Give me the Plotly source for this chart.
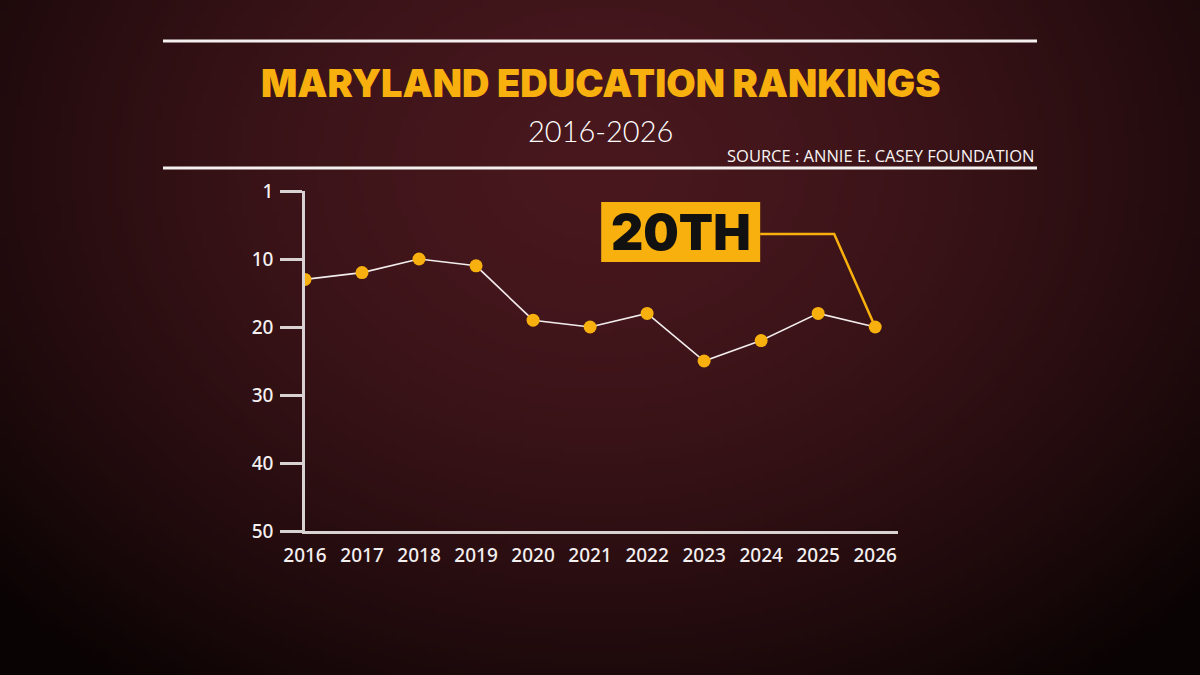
import base64, struct, zlib
import plotly.graph_objects as go

# ---- data ----
years = [2016, 2017, 2018, 2019, 2020, 2021, 2022, 2023, 2024, 2025, 2026]
ranks = [13, 12, 10, 11, 19, 20, 18, 25, 22, 18, 20]
ytick_vals = [0, 10, 20, 30, 40, 50]
ytick_text = ["1", "10", "20", "30", "40", "50"]
title_text = "MARYLAND EDUCATION RANKINGS"
subtitle_text = "2016-2026"
source_text = "SOURCE : ANNIE E. CASEY FOUNDATION"
callout_text = "20TH"

W, H = 1200, 675
L, R, T, B = 305, 302, 191, 144
PW, PH = W - L - R, H - T - B

GOLD = "#F8B00E"
LINE = "#D9D2D2"


# ---- radial gradient background as PNG data uri ----
def gradient_png(w, h):
    cx, cy = 0.5 * w, 0.25 * h
    rx, ry = 0.68 * w, 0.95 * h
    center = (72, 24, 30)
    edge = (10, 3, 3)
    rows = []
    for j in range(h):
        row = bytearray([0])
        for i in range(w):
            dx = (i + 0.5 - cx) / rx
            dy = (j + 0.5 - cy) / ry
            r = min(1.0, (dx * dx + dy * dy) ** 0.5)
            f = 1 - r ** 1.6
            row += bytes(int(edge[k] + (center[k] - edge[k]) * f) for k in range(3))
        rows.append(bytes(row))
    raw = b"".join(rows)

    def chunk(tag, data):
        c = struct.pack(">I", len(data)) + tag + data
        return c + struct.pack(">I", zlib.crc32(tag + data) & 0xFFFFFFFF)

    png = b"\x89PNG\r\n\x1a\n"
    png += chunk(b"IHDR", struct.pack(">IIBBBBB", w, h, 8, 2, 0, 0, 0))
    png += chunk(b"IDAT", zlib.compress(raw, 9))
    png += chunk(b"IEND", b"")
    return "data:image/png;base64," + base64.b64encode(png).decode()


bg = gradient_png(240, 135)

fig = go.Figure()
fig.add_trace(go.Scatter(
    x=years, y=ranks, mode="lines+markers",
    line=dict(color="#F2ECEC", width=1.6),
    marker=dict(color=GOLD, size=13, line=dict(width=0)),
    hoverinfo="skip", showlegend=False,
))

xmin, xmax = 2016, 2026.4
px_per_x = PW / (xmax - xmin)
px_per_y = PH / 50.0

# callout geometry derived from the last point
lx, ly = years[-1], ranks[-1]
elbow_x = lx - 41 / px_per_x
elbow_y = ly - 93 / px_per_y
box_x1 = elbow_x - 74 / px_per_x
box_x0 = box_x1 - 159 / px_per_x
box_y0 = elbow_y - 32 / px_per_y
box_y1 = elbow_y + 28 / px_per_y

shapes = [
    dict(type="path", xref="x", yref="y",
         path=f"M {box_x1},{elbow_y} L {elbow_x},{elbow_y} L {lx},{ly}",
         line=dict(color=GOLD, width=2.5), layer="below"),
    dict(type="rect", xref="x", yref="y", x0=box_x0, x1=box_x1, y0=box_y0, y1=box_y1,
         fillcolor=GOLD, line=dict(width=0), layer="above"),
    # header rules
    dict(type="line", xref="paper", yref="paper",
         x0=(163 - L) / PW, x1=(1037 - L) / PW,
         y0=1 + (T - 41) / PH, y1=1 + (T - 41) / PH,
         line=dict(color="#F4F0F0", width=3)),
    dict(type="line", xref="paper", yref="paper",
         x0=(163 - L) / PW, x1=(1037 - L) / PW,
         y0=1 + (T - 168) / PH, y1=1 + (T - 168) / PH,
         line=dict(color="#F4F0F0", width=3)),
]

annotations = [
    dict(text=callout_text, x=(box_x0 + box_x1) / 2, y=(box_y0 + box_y1) / 2,
         xref="x", yref="y", showarrow=False,
         font=dict(family="Inter", size=50, color="#111111", weight=900)),
    dict(text=title_text, x=(600 - L) / PW, y=1 + (T - 83) / PH, xref="paper", yref="paper",
         showarrow=False, xanchor="center", yanchor="middle",
         font=dict(family="Inter", size=38, color=GOLD, weight=900)),
    dict(text=subtitle_text, x=(600 - L) / PW, y=1 + (T - 130) / PH, xref="paper", yref="paper",
         showarrow=False, xanchor="center", yanchor="middle",
         font=dict(family="Lato", size=29, color="#FFFFFF", weight=300)),
    dict(text=source_text, x=(1036 - L) / PW, y=1 + (T - 156) / PH, xref="paper", yref="paper",
         showarrow=False, xanchor="right", yanchor="middle",
         font=dict(family="Open Sans", size=16.5, color="#F8F4F4", weight=500)),
]

fig.update_layout(
    width=W, height=H,
    margin=dict(l=L, r=R, t=T, b=B),
    paper_bgcolor="#1a0808",
    plot_bgcolor="rgba(0,0,0,0)",
    shapes=shapes,
    annotations=annotations,
    images=[dict(source=bg, xref="paper", yref="paper",
                 x=-L / PW, y=1 + T / PH, sizex=W / PW, sizey=H / PH,
                 xanchor="left", yanchor="top", sizing="stretch", layer="below")],
    xaxis=dict(range=[xmin, xmax], showgrid=False, zeroline=False,
               showline=True, linecolor=LINE, linewidth=2.5,
               tickvals=years, ticks="", ticklabelstandoff=5,
               tickfont=dict(family="Noto Sans", size=19, color="#F4F0F0", weight=500)),
    yaxis=dict(range=[50, 0], showgrid=False, zeroline=False,
               showline=True, linecolor=LINE, linewidth=2.5,
               tickvals=ytick_vals, ticktext=ytick_text,
               ticks="outside", ticklen=22, tickwidth=2.5, tickcolor=LINE,
               ticklabelstandoff=3,
               tickfont=dict(family="Noto Sans", size=19, color="#F4F0F0", weight=500)),
)

fig.write_html("out.html")
